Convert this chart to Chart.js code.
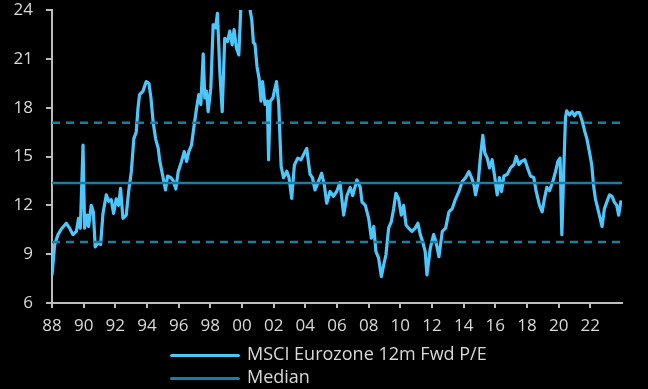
<!DOCTYPE html>
<html lang="en">
<head>
    <meta charset="UTF-8">
    <title>MSCI Eurozone 12m Fwd P/E</title>
    <script src="https://cdn.jsdelivr.net/npm/chart.js"></script>
    <style>
        html, body { margin: 0; padding: 0; background: #000; }
        .wrap { position: relative; width: 648px; height: 389px; background: #000; }
        .legend { position: absolute; left: 170px; top: 342px; font-family: "Open Sans", sans-serif; font-size: 18px; color: #d9d9d9; }
        .legend .row { height: 23px; line-height: 23px; white-space: nowrap; }
        .legend .swatch { display: inline-block; width: 70px; height: 3px; border-radius: 2px; vertical-align: middle; margin-right: 7px; }
    </style>
</head>
<body>
    <div class="wrap">
        <canvas id="peChart" width="648" height="389"></canvas>
        <div class="legend">
            <div class="row"><span class="swatch" style="background:#4cc6fb"></span>MSCI Eurozone 12m Fwd P/E</div>
            <div class="row"><span class="swatch" style="background:#1a7ea2"></span>Median</div>
        </div>
    </div>

    <script>
        // values (decimal year, P/E)
        const years = [
            1988.00, 1988.17, 1988.38, 1988.59, 1988.90, 1989.11, 1989.32, 1989.54, 1989.68, 1989.79,
            1989.96, 1990.06, 1990.23, 1990.31, 1990.48, 1990.61, 1990.73, 1990.90, 1991.07, 1991.22,
            1991.43, 1991.58, 1991.74, 1991.89, 1992.06, 1992.21, 1992.33, 1992.48, 1992.69, 1992.84,
            1993.01, 1993.17, 1993.32, 1993.43, 1993.53, 1993.74, 1993.95, 1994.12, 1994.25, 1994.39,
            1994.54, 1994.71, 1994.81, 1994.96, 1995.17, 1995.30, 1995.51, 1995.66, 1995.82, 1995.97,
            1996.18, 1996.35, 1996.50, 1996.64, 1996.81, 1996.98, 1997.13, 1997.27, 1997.40, 1997.55,
            1997.65, 1997.76, 1997.86, 1998.03, 1998.18, 1998.33, 1998.45, 1998.60, 1998.75, 1998.91,
            1999.08, 1999.23, 1999.38, 1999.50, 1999.65, 1999.80, 1999.92, 2000.05, 2000.30, 2000.51,
            2000.62, 2000.72, 2000.82, 2000.95, 2001.08, 2001.20, 2001.30, 2001.45, 2001.60, 2001.68,
            2001.78, 2001.95, 2002.18, 2002.32, 2002.47, 2002.62, 2002.83, 2002.97, 2003.14, 2003.31,
            2003.52, 2003.73, 2003.88, 2004.09, 2004.19, 2004.30, 2004.45, 2004.61, 2004.78, 2005.03,
            2005.20, 2005.35, 2005.56, 2005.77, 2005.98, 2006.19, 2006.42, 2006.63, 2006.84, 2006.99,
            2007.26, 2007.47, 2007.58, 2007.79, 2008.00, 2008.17, 2008.32, 2008.46, 2008.63, 2008.80,
            2008.95, 2009.09, 2009.26, 2009.43, 2009.58, 2009.72, 2009.89, 2010.06, 2010.21, 2010.36,
            2010.52, 2010.73, 2010.94, 2011.11, 2011.26, 2011.41, 2011.57, 2011.68, 2011.89, 2012.10,
            2012.25, 2012.44, 2012.65, 2012.86, 2013.07, 2013.28, 2013.49, 2013.70, 2013.91, 2014.12,
            2014.33, 2014.50, 2014.65, 2014.75, 2014.92, 2015.07, 2015.21, 2015.34, 2015.49, 2015.63,
            2015.80, 2015.97, 2016.12, 2016.26, 2016.39, 2016.54, 2016.75, 2016.96, 2017.17, 2017.32,
            2017.48, 2017.65, 2017.86, 2018.07, 2018.22, 2018.43, 2018.58, 2018.79, 2018.96, 2019.10,
            2019.25, 2019.42, 2019.63, 2019.80, 2019.95, 2020.09, 2020.20, 2020.32, 2020.43, 2020.51,
            2020.68, 2020.85, 2021.00, 2021.14, 2021.31, 2021.48, 2021.63, 2021.78, 2021.94, 2022.09,
            2022.20, 2022.32, 2022.47, 2022.62, 2022.74, 2022.89, 2023.04, 2023.21, 2023.37, 2023.52,
            2023.67, 2023.79, 2023.94
        ];
        const fwdPE = [
            7.7, 9.6, 10.2, 10.55, 10.9, 10.6, 10.2, 10.4, 11.2, 10.6,
            15.7, 10.6, 11.4, 10.7, 12.0, 11.6, 9.45, 9.7, 9.6, 11.5,
            12.65, 12.25, 12.35, 11.5, 12.4, 12.0, 13.05, 11.2, 11.4, 12.85,
            14.07, 16.1, 16.5, 17.96, 18.8, 19.0, 19.6, 19.5, 18.6, 17.1,
            16.1, 15.5, 14.7, 13.97, 12.95, 13.8, 13.7, 13.5, 13.0, 14.07,
            14.7, 15.3, 14.7, 15.3, 15.7, 16.94, 17.96, 18.8, 18.2, 21.3,
            18.6, 19.0, 17.75, 19.2, 23.1, 22.9, 23.8, 20.2, 17.75, 22.26,
            22.06, 22.7, 21.86, 22.8, 21.65, 21.24, 24.0, 25.0, 25.2, 24.0,
            23.4, 22.0, 21.9, 20.5, 19.8, 18.4, 19.6, 18.2, 18.4, 14.8,
            18.4, 18.6, 19.6, 18.2, 14.4, 13.7, 14.1, 13.7, 12.43, 14.48,
            14.9, 14.8, 15.1, 15.5, 14.7, 13.9, 13.7, 12.95, 13.35, 13.97,
            13.25, 12.13, 12.85, 12.55, 12.85, 13.4, 11.4, 12.6, 13.1, 12.6,
            13.56, 13.1, 12.2, 12.0, 11.2, 9.98, 10.7, 9.15, 8.75, 7.62,
            8.35, 8.95, 10.6, 11.0, 11.8, 12.74, 12.4, 11.4, 12.0, 10.8,
            10.6, 10.4, 10.6, 10.9, 10.2, 9.77, 9.15, 7.72, 9.35, 10.2,
            9.77, 8.85, 10.4, 10.6, 11.6, 11.8, 12.4, 12.85, 13.46, 13.7,
            14.07, 13.7, 13.25, 12.64, 13.46, 15.1, 16.3, 15.2, 14.9, 14.3,
            14.8, 13.7, 12.64, 13.7, 12.85, 13.8, 13.9, 14.3, 14.5, 15.0,
            14.5, 14.7, 14.8, 14.2, 13.8, 13.7, 12.85, 12.0, 11.6, 12.4,
            13.1, 12.9, 13.46, 14.07, 14.7, 14.9, 10.2, 14.07, 17.4, 17.8,
            17.55, 17.75, 17.5, 17.7, 17.7, 17.2, 16.6, 16.1, 15.3, 14.48,
            13.25, 12.4, 11.8, 11.2, 10.7, 11.8, 12.2, 12.64, 12.55, 12.2,
            12.0, 11.4, 12.3
        ];
        const MEDIAN = 13.37;
        const UPPER_BAND = 17.07;
        const LOWER_BAND = 9.75;
        const X_MIN = 1988, X_MAX = 2024;
        const yTicks = [6, 9, 12, 15, 18, 21, 24];

        const seriesColor = "#4cc6fb";
        const medianColor = "#1a7ea2";
        const axisColor = "#bdbdbd";
        const textColor = "#d9d9d9";

        const series = years.map((yr, i) => ({ x: yr, y: fwdPE[i] }));
        const flat = v => [{ x: X_MIN, y: v }, { x: X_MAX, y: v }];

        new Chart(document.getElementById("peChart").getContext("2d"), {
            type: "line",
            data: {
                datasets: [
                    { label: "Median", data: flat(MEDIAN), borderColor: medianColor, borderWidth: 2.5, pointRadius: 0, order: 0 },
                    { label: "+1sd", data: flat(UPPER_BAND), borderColor: medianColor, borderWidth: 2.5, borderDash: [8, 6], pointRadius: 0, order: 0 },
                    { label: "-1sd", data: flat(LOWER_BAND), borderColor: medianColor, borderWidth: 2.5, borderDash: [8, 6], pointRadius: 0, order: 0 },
                    { label: "MSCI Eurozone 12m Fwd P/E", data: series, borderColor: seriesColor, borderWidth: 3.2, pointRadius: 0, tension: 0, borderJoinStyle: "round", order: 1 }
                ]
            },
            options: {
                responsive: false,
                animation: false,
                layout: { padding: { top: 10, right: 26, bottom: 56, left: 0 } },
                plugins: { legend: { display: false }, tooltip: { enabled: false } },
                scales: {
                    x: {
                        type: "linear",
                        min: X_MIN,
                        max: X_MAX,
                        afterFit: s => { s.height = 30; s.paddingLeft = 0; s.paddingRight = 0; },
                        afterBuildTicks: s => { s.ticks = []; for (let v = 1988; v <= 2022; v += 2) s.ticks.push({ value: v }); },
                        grid: { drawOnChartArea: false, color: axisColor, tickLength: 5, lineWidth: 2 },
                        border: { color: axisColor, width: 2 },
                        ticks: {
                            color: textColor,
                            font: { family: "Open Sans", size: 17 },
                            padding: 8,
                            maxRotation: 0,
                            autoSkip: false,
                            callback: v => String(v % 100).padStart(2, "0")
                        }
                    },
                    y: {
                        min: 6,
                        max: 24,
                        afterFit: s => { s.width = 52; s.paddingTop = 0; s.paddingBottom = 0; },
                        afterBuildTicks: s => { s.ticks = yTicks.map(v => ({ value: v })); },
                        grid: { drawOnChartArea: false, color: axisColor, tickLength: 6, lineWidth: 2 },
                        border: { color: axisColor, width: 2 },
                        ticks: { color: textColor, font: { family: "Open Sans", size: 17 }, padding: 13 }
                    }
                }
            }
        });
    </script>
</body>
</html>
